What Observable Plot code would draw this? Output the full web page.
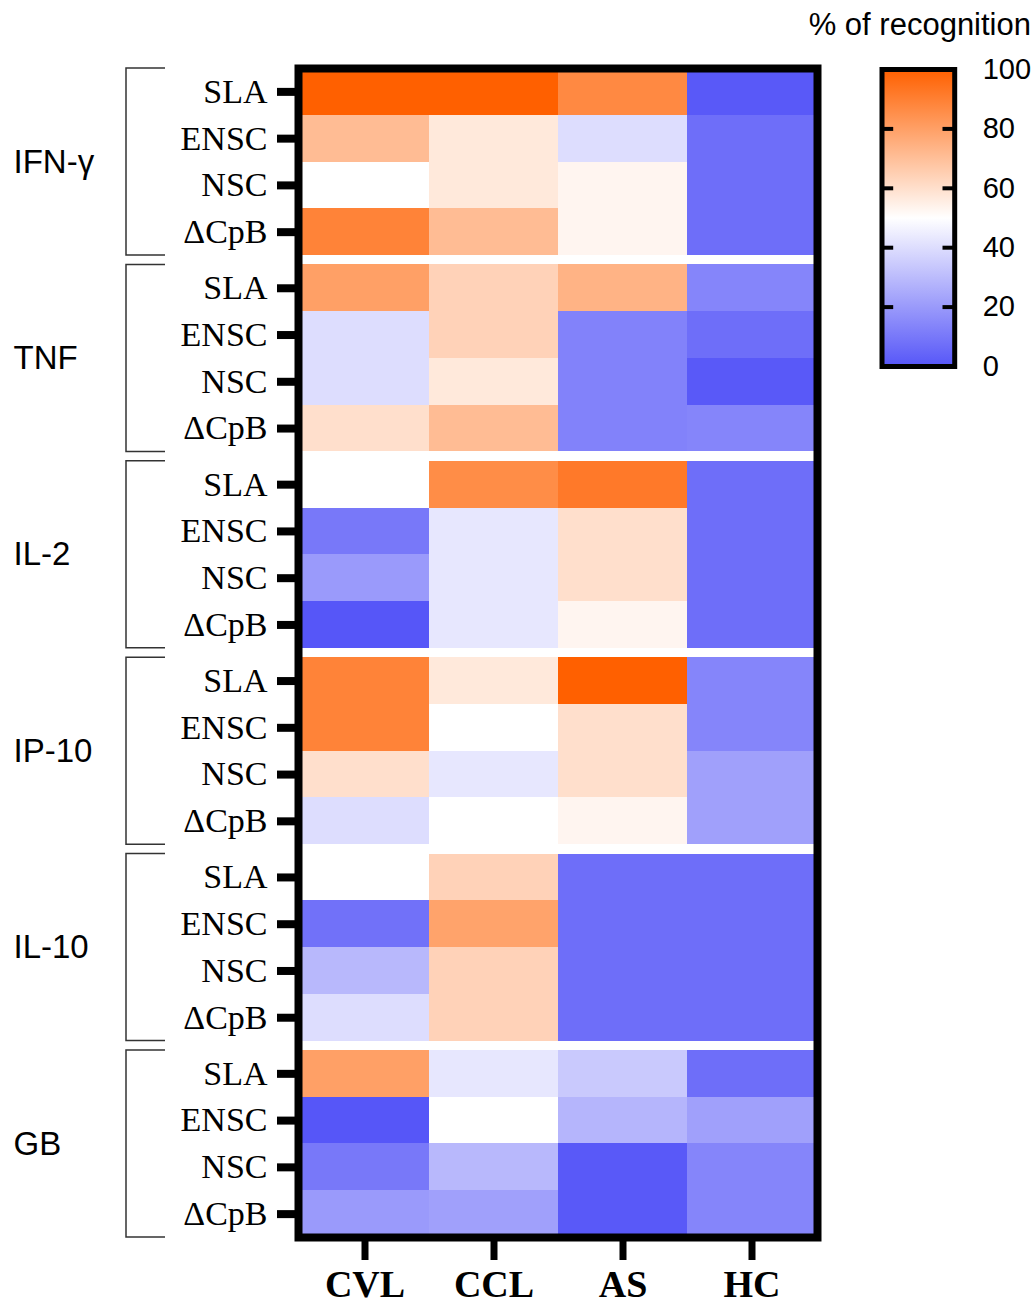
<!DOCTYPE html>
<html>
<head>
<meta charset="utf-8">
<script src="https://cdn.jsdelivr.net/npm/d3@7"></script>
<script src="https://cdn.jsdelivr.net/npm/@observablehq/plot@0.6"></script>
<style>
html, body { margin: 0; padding: 0; background: #fff; }
#wrap { position: relative; width: 1035px; height: 1305px; overflow: hidden; }
#legend { position: absolute; left: 850px; top: 0; }
#ltitle { position: absolute; right: 4px; top: 9px; font-family: "Liberation Sans", Arial, sans-serif; font-size: 31px; line-height: 31px; color: #000; white-space: nowrap; }
</style>
</head>
<body>
<div id="wrap"><div id="chart"></div><div id="legend"></div><div id="ltitle">% of recognition</div></div>
<script>
// ---- data ----
const groups = ["IFN-γ", "TNF", "IL-2", "IP-10", "IL-10", "GB"];
const antigens = ["SLA", "ENSC", "NSC", "ΔCpB"];
const columns = ["CVL", "CCL", "AS", "HC"];
// rows: SLA, ENSC, NSC, ΔCpB ; entries: CVL, CCL, AS, HC
const ifng = [[100, 100, 87, 1], [71, 57, 40, 7], [50, 57, 53, 7], [89, 71, 53, 7]];
const tnf  = [[80, 64, 74, 14], [40, 64, 13, 7], [40, 57, 13, 1], [60, 71, 13, 14]];
const il2  = [[50, 86, 92, 7], [10, 43, 60, 7], [20, 43, 60, 7], [0, 43, 53, 7]];
const ip10 = [[89, 57, 100, 14], [89, 50, 60, 14], [60, 43, 60, 22], [40, 50, 53, 22]];
const il10 = [[50, 64, 7, 7], [8, 79, 7, 7], [29, 64, 7, 7], [40, 64, 7, 7]];
const gb   = [[80, 43, 34, 7], [0, 50, 28, 22], [10, 29, 1, 14], [20, 22, 1, 14]];
const legendTicks = [0, 20, 40, 60, 80, 100];

// ---- layout helpers ----
const GAP = 0.2; // gap between groups, in row units
const groupValues = [ifng, tnf, il2, ip10, il10, gb];
const nA = antigens.length;
const cells = [];
const rowTicks = [];
const labelByTick = new Map();
const key = d => (+d).toFixed(4);
groups.forEach((g, gi) => {
  antigens.forEach((a, ai) => {
    const row = gi * (nA + GAP) + ai;
    rowTicks.push(row + 0.5);
    labelByTick.set(key(row + 0.5), a);
    columns.forEach((c, ci) => {
      cells.push({group: g, antigen: a, col: c, value: groupValues[gi][ai][ci], row});
    });
  });
});
const groupCenters = groups.map((g, gi) => ({group: g, center: gi * (nA + GAP) + nA / 2}));
const H = nA * groups.length + GAP * (groups.length - 1);

const colorOpts = {type: "linear", domain: [0, 50, 100], range: ["#5656f8", "#ffffff", "#ff6000"], interpolate: "rgb"};

const brackets = (index, scales, values, dims) => {
  const g = d3.create("svg:g").attr("fill", "none").attr("stroke", "#333").attr("stroke-width", 1.5);
  groups.forEach((_, gi) => {
    const t = scales.y(gi * (nA + GAP));
    const b = scales.y(gi * (nA + GAP) + nA);
    const x1 = dims.marginLeft - 172, x2 = dims.marginLeft - 133;
    g.append("path").attr("d", `M${x2},${t}H${x1}V${b}H${x2}`);
  });
  return g.node();
};

const chart = Plot.plot({
  width: 1035,
  height: 1305,
  marginLeft: 298,
  marginRight: 218,
  marginTop: 68,
  marginBottom: 68,
  style: {background: "white", color: "black"},
  x: {domain: columns, padding: 0},
  y: {domain: [0, H], reverse: true},
  color: colorOpts,
  marks: [
    Plot.barY(cells, {x: "col", y1: "row", y2: d => d.row + 1, fill: "value", shapeRendering: "crispEdges"}),
    Plot.frame({stroke: "black", strokeWidth: 8}),
    Plot.axisX({tickSize: 23, strokeWidth: 7, tickPadding: 10, fontSize: 38, fontWeight: "bold", fontFamily: "Liberation Serif", label: null}),
    Plot.axisY({ticks: rowTicks, tickFormat: d => labelByTick.get(key(d)), tickSize: 21, strokeWidth: 8, tickPadding: 10, fontSize: 34, fontFamily: "Liberation Serif", label: null}),
    Plot.text(groupCenters, {y: "center", text: "group", frameAnchor: "left", textAnchor: "start", dx: -285, fontSize: 33, fontFamily: "Liberation Sans"}),
    brackets
  ]
});
document.getElementById("chart").appendChild(chart);

// ---- vertical color legend ----
const cs = Plot.scale({color: colorOpts});
const gradientDefs = () => {
  const defs = d3.create("svg:defs");
  const lg = defs.append("linearGradient").attr("id", "lg").attr("x1", 0).attr("y1", 1).attr("x2", 0).attr("y2", 0);
  colorOpts.domain.forEach(v => {
    lg.append("stop").attr("offset", `${v}%`).attr("stop-color", cs.apply(v));
  });
  return defs.node();
};
const legend = Plot.plot({
  width: 185,
  height: 400,
  marginTop: 69,
  marginBottom: 34,
  marginLeft: 31.5,
  marginRight: 80.8,
  style: {background: "transparent", color: "black"},
  y: {domain: [0, 100]},
  marks: [
    gradientDefs,
    Plot.frame({fill: "url(#lg)", stroke: "black", strokeWidth: 5}),
    Plot.tickY(legendTicks.slice(1, -1), {y: d => d, insetRight: 61, strokeWidth: 4}),
    Plot.tickY(legendTicks.slice(1, -1), {y: d => d, insetLeft: 61, strokeWidth: 4}),
    Plot.axisY({anchor: "right", ticks: legendTicks, tickSize: 0, tickPadding: 28, fontSize: 29, fontFamily: "Liberation Sans", label: null})
  ]
});
document.getElementById("legend").appendChild(legend);
</script>
</body>
</html>
